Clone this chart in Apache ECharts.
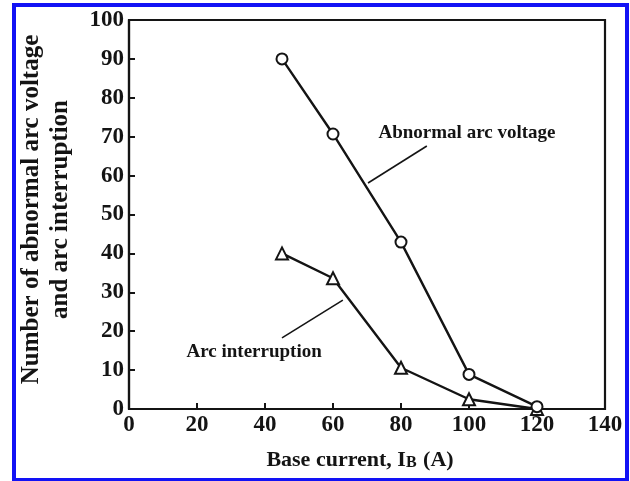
<!DOCTYPE html>
<html><head><meta charset="utf-8">
<script src="https://cdn.jsdelivr.net/npm/echarts@6/dist/echarts.min.js"></script>
<style>html,body{margin:0;padding:0;background:#fff}#c{width:630px;height:481px}</style>
</head><body><div id="c"></div>
<script>
// ---- data ----
const baseCurrent = [45, 60, 80, 100, 120];
const abnormalArcVoltage = [90, 70.7, 42.9, 8.9, 0.6];
const arcInterruption = [40, 33.6, 10.6, 2.5, 0];
const xTickLabels = ['0', '20', '40', '60', '80', '100', '120', '140'];
const yTickLabels = ['0', '10', '20', '30', '40', '50', '60', '70', '80', '90', '100'];
const labelVoltage = 'Abnormal arc voltage';
const labelInterruption = 'Arc interruption';
// annotation anchors (data coordinates)
const voltageLabelAt = [99.4, 71.0];
const voltageLeader = [[87.6, 67.6], [70.3, 58.1]];
const interruptionLabelAt = [36.8, 14.7];
const interruptionLeader = [[62.9, 28.0], [45.0, 18.3]];

const FF = '"Liberation Serif", "Times New Roman", serif';
const INK = '#141414';

const pairs = (xs, ys) => xs.map((x, i) => [x, ys[i]]);

function annotation(text, at, leader) {
  return {
    markLine: {
      silent: true, symbol: 'none', animation: false,
      lineStyle: { color: INK, width: 1.6, type: 'solid' },
      label: { show: false },
      data: [[{ coord: leader[0] }, { coord: leader[1] }]]
    },
    markPoint: {
      silent: true, animation: false,
      symbol: 'rect', symbolSize: [1, 1],
      itemStyle: { color: 'rgba(0,0,0,0)' },
      label: {
        show: true, position: 'inside', formatter: text,
        fontFamily: FF, fontWeight: 'bold', fontSize: 19, color: INK
      },
      data: [{ coord: at }]
    }
  };
}

const chart = echarts.init(document.getElementById('c'), null, { renderer: 'canvas' });
chart.setOption({
  animation: false,
  backgroundColor: '#fff',
  grid: {
    left: 129, right: 25, top: 20, bottom: 72,
    show: true, borderColor: INK, borderWidth: 2.2, backgroundColor: 'transparent'
  },
  graphic: [{
    type: 'rect', silent: true, z: 100,
    shape: { x: 14, y: 5, width: 613, height: 475 },
    style: { fill: 'none', stroke: '#1212f5', lineWidth: 4 }
  }],
  xAxis: {
    type: 'value', min: 0, max: 140, interval: 20,
    name: '{n|Base current, I}{s|B}{n| (A)}',
    nameLocation: 'middle', nameGap: 40,
    nameTextStyle: {
      padding: [0, 14, 0, 0],
      rich: {
        n: { fontFamily: FF, fontWeight: 'bold', fontSize: 22, color: INK, lineHeight: 22 },
        s: { fontFamily: FF, fontWeight: 'bold', fontSize: 16, color: INK, lineHeight: 16, verticalAlign: 'bottom', padding: [4, 1, 0, 0] }
      }
    },
    axisLine: { show: true, lineStyle: { color: INK, width: 2.2 } },
    axisTick: { show: true, inside: true, length: 6, lineStyle: { color: INK, width: 2 } },
    axisLabel: {
      margin: 5, fontFamily: FF, fontWeight: 'bold', fontSize: 23, color: INK,
      formatter: (v) => xTickLabels[Math.round(v / 20)]
    },
    splitLine: { show: false }
  },
  yAxis: {
    type: 'value', min: 0, max: 100, interval: 10,
    name: 'Number of abnormal arc voltage\nand arc interruption',
    nameLocation: 'middle', nameGap: 54, nameRotate: 90,
    nameTextStyle: {
      fontFamily: FF, fontWeight: 'bold', fontSize: 25, lineHeight: 29, color: INK,
      align: 'center', padding: [0, 0, 0, 10]
    },
    axisLine: { show: true, lineStyle: { color: INK, width: 2.2 } },
    axisTick: { show: true, inside: true, length: 6, lineStyle: { color: INK, width: 2 } },
    axisLabel: {
      margin: 5, fontFamily: FF, fontWeight: 'bold', fontSize: 23, color: INK,
      formatter: (v) => yTickLabels[Math.round(v / 10)]
    },
    splitLine: { show: false }
  },
  series: [
    Object.assign({
      name: labelVoltage, type: 'line',
      data: pairs(baseCurrent, abnormalArcVoltage),
      symbol: 'emptyCircle', symbolSize: 11,
      lineStyle: { color: INK, width: 2.4 },
      itemStyle: { color: INK, borderColor: INK, borderWidth: 2.2 },
      z: 3
    }, annotation(labelVoltage, voltageLabelAt, voltageLeader)),
    Object.assign({
      name: labelInterruption, type: 'line',
      data: pairs(baseCurrent, arcInterruption),
      symbol: 'emptyTriangle', symbolSize: 12,
      lineStyle: { color: INK, width: 2.4 },
      itemStyle: { color: INK, borderColor: INK, borderWidth: 2.2 },
      z: 2
    }, annotation(labelInterruption, interruptionLabelAt, interruptionLeader))
  ]
});
</script>
</body></html>
